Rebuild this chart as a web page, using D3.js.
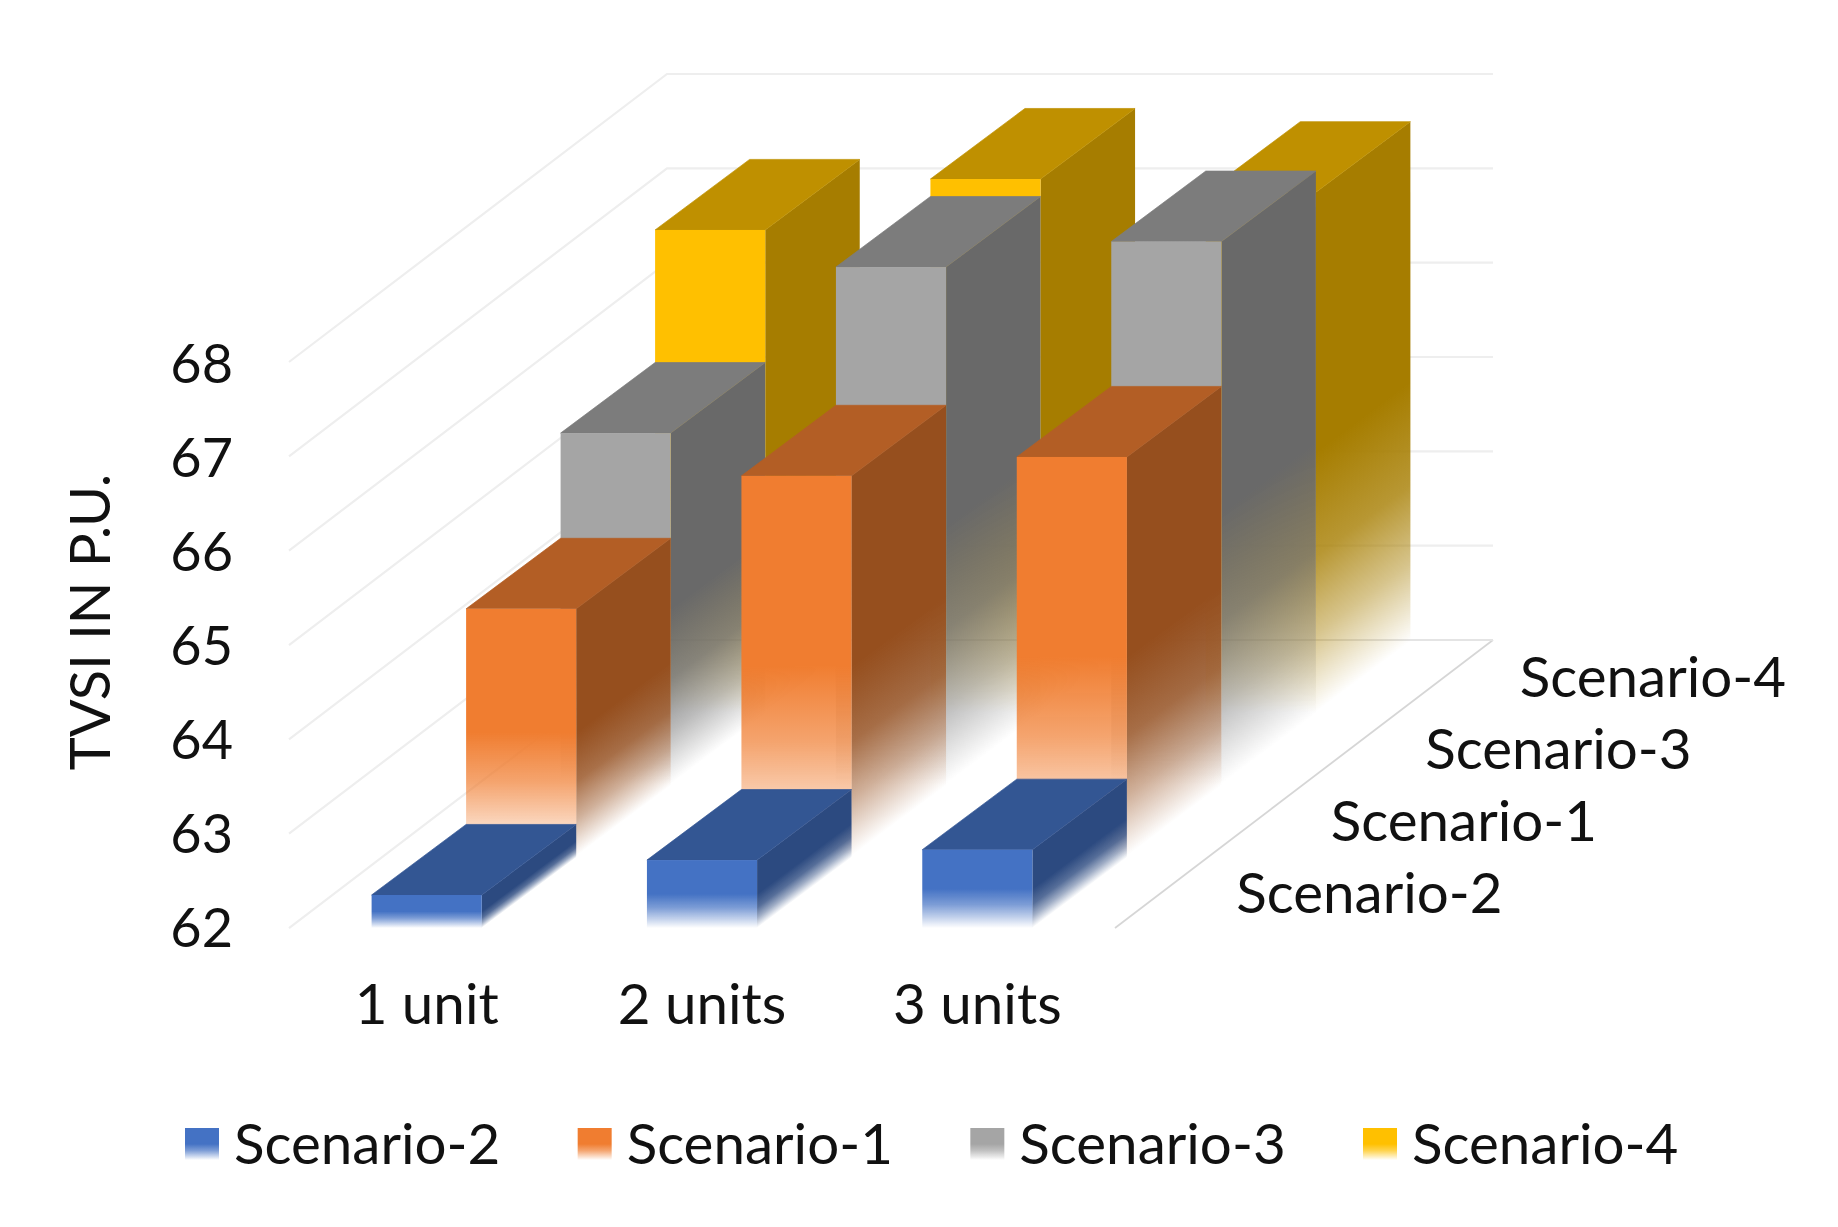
<!DOCTYPE html>
<html>
<head>
<meta charset="utf-8">
<script src="https://cdn.jsdelivr.net/npm/d3@7/dist/d3.min.js"></script>
<style>
html,body{margin:0;padding:0;background:#fff;}
svg{display:block;filter:blur(0.6px);}
text{font-family:Lato,"Noto Sans",sans-serif;fill:#111;}
</style>
</head>
<body>
<svg id="chart" width="1838" height="1227"></svg>
<script>
const categories = ["1 unit", "2 units", "3 units"];
const seriesNames = ["Scenario-2", "Scenario-1", "Scenario-3", "Scenario-4"];
const scenario2 = [62.35, 62.72, 62.83];
const scenario1 = [64.62, 66.03, 66.23];
const scenario3 = [65.72, 67.48, 67.75];
const scenario4 = [67.11, 67.65, 67.51];
const seriesValues = [scenario2, scenario1, scenario3, scenario4];
const yTicks = [62, 63, 64, 65, 66, 67, 68];
const faceColors = [
  {front:"#4472c4", top:"#335693", side:"#2c4a80"},
  {front:"#f07d30", top:"#b35e25", side:"#964f1e"},
  {front:"#a5a5a5", top:"#7c7c7c", side:"#696969"},
  {front:"#ffc000", top:"#bf9000", side:"#a67d00"}
];
const sideStops = [[0, 1], [0.5, 1], [0.7, 0.8], [0.85, 0.45], [1, 0]];
const frontStops = [[0, 1], [0.5, 1], [0.7, 0.7], [0.85, 0.36], [1, 0]];

const svg = d3.select("#chart");
const defs = svg.append("defs");
const y = d3.scaleLinear().domain([62, 68]).range([928, 362]);
const yLabels = d3.scaleLinear().domain([62, 68]).range([929.5, 365]);
const x = d3.scaleBand().domain(categories).range([289, 1115]).paddingInner(0.6).paddingOuter(0.3);
const depth = d3.scaleBand().domain(seriesNames).range([0, 1]);
const depthX = 378, depthY = -288;
const dx = depthX * depth.bandwidth(), dy = depthY * depth.bandwidth();
const faceDy = dy * 0.98;
const nLen = Math.hypot(dx, faceDy), nx = -faceDy / nLen, ny = dx / nLen;

function fade(id, attrs, color, stops) {
  const g = defs.append("linearGradient").attr("id", id);
  Object.entries(attrs).forEach(([k, v]) => g.attr(k, v));
  stops.forEach(([o, a]) => {
    g.append("stop").attr("offset", o).attr("stop-color", color).attr("stop-opacity", a);
  });
  return `url(#${id})`;
}

// walls and floor
const grid = svg.append("g").attr("fill", "none");
const [x0, x1] = x.range();
yTicks.forEach(t => {
  const yy = y(t);
  grid.append("polyline")
    .attr("points", `${x0},${yy} ${x0 + depthX},${yy + depthY} ${x1 + depthX},${yy + depthY}`)
    .attr("stroke", "#eeeeee").attr("stroke-width", 2.2);
});
grid.append("line").attr("x1", x1).attr("y1", y(62)).attr("x2", x1 + depthX).attr("y2", y(62) + depthY)
  .attr("stroke", "#d6d6d6").attr("stroke-width", 1.8);
grid.append("line").attr("x1", x0 + depthX).attr("y1", y(62) + depthY).attr("x2", x1 + depthX).attr("y2", y(62) + depthY)
  .attr("stroke", "#e4e4e4").attr("stroke-width", 1.8);

// bars, drawn from the back row to the front row
const bars = svg.append("g");
d3.range(seriesNames.length - 1, -1, -1).forEach(r => {
  const name = seriesNames[r];
  const c = faceColors[r];
  const off = depth(name);
  categories.forEach((cat, i) => {
    const bx = x(cat) + depthX * off;
    const bw = x.bandwidth();
    const yB = y(62) + depthY * off;
    const H = y(62) - y(seriesValues[r][i]);
    const yT = yB - H;
    const g = bars.append("g");
    const xs = bx + bw;
    const L = H * ny;
    const sideFill = fade(`side${r}${i}`, {gradientUnits:"userSpaceOnUse", x1:xs, y1:yT, x2:xs + nx * L, y2:yT + ny * L}, c.side, sideStops);
    g.append("path")
      .attr("d", `M${xs},${yT}L${xs + dx},${yT + faceDy}L${xs + dx},${yB + faceDy}L${xs},${yB}Z`)
      .attr("fill", sideFill);
    g.append("path")
      .attr("d", `M${bx},${yT}L${bx + dx},${yT + faceDy}L${xs + dx},${yT + faceDy}L${xs},${yT}Z`)
      .attr("fill", c.top).attr("stroke", c.top).attr("stroke-width", 0.7);
    g.append("rect").attr("x", bx).attr("y", yT).attr("width", bw).attr("height", H)
      .attr("fill", fade(`front${r}${i}`, {x1:0, y1:0, x2:0, y2:1}, c.front, frontStops));
  });
});

// axes
const fontSize = 56.5;
const yAxis = svg.append("g").attr("transform", "translate(233,0)")
  .call(d3.axisLeft(yLabels).tickValues(yTicks).tickSize(0).tickPadding(0).tickFormat(d3.format("d")));
const xAxis = svg.append("g").attr("transform", "translate(0,983)")
  .call(d3.axisBottom(x).tickSize(0).tickPadding(0));
[yAxis, xAxis].forEach(a => {
  a.select(".domain").remove();
  a.selectAll("text").style("font-family", "Lato");
});
yAxis.selectAll("text").style("font-size", "54px");
xAxis.selectAll("text").style("font-size", fontSize + "px").attr("dy", "0.73em");

// series labels along the depth axis
svg.append("g").selectAll("text").data(seriesNames).join("text")
  .attr("x", d => x1 + depthX * (depth(d) + depth.bandwidth() / 2) + 74)
  .attr("y", d => y(62) + depthY * (depth(d) + depth.bandwidth() / 2) + 1)
  .attr("dy", "0.36em")
  .style("font-size", fontSize + "px")
  .text(d => d);

// axis title
svg.append("text").attr("transform", "translate(110,622) rotate(-90)")
  .attr("text-anchor", "middle")
  .style("font-size", "56px")
  .text("TVSI IN P.U.");

// legend
const legendX = d3.scalePoint().domain(seriesNames).range([185, 1363]);
const legend = svg.append("g").selectAll("g").data(seriesNames).join("g")
  .attr("transform", d => `translate(${legendX(d)},1128)`);
legend.append("rect").attr("width", 34).attr("height", 32)
  .attr("fill", (d, i) => fade(`leg${i}`, {x1:0, y1:0, x2:0, y2:1}, faceColors[i].front, frontStops));
legend.append("text").attr("x", 49).attr("y", 16).attr("dy", "0.36em")
  .style("font-size", fontSize + "px")
  .text(d => d);
</script>
</body>
</html>
